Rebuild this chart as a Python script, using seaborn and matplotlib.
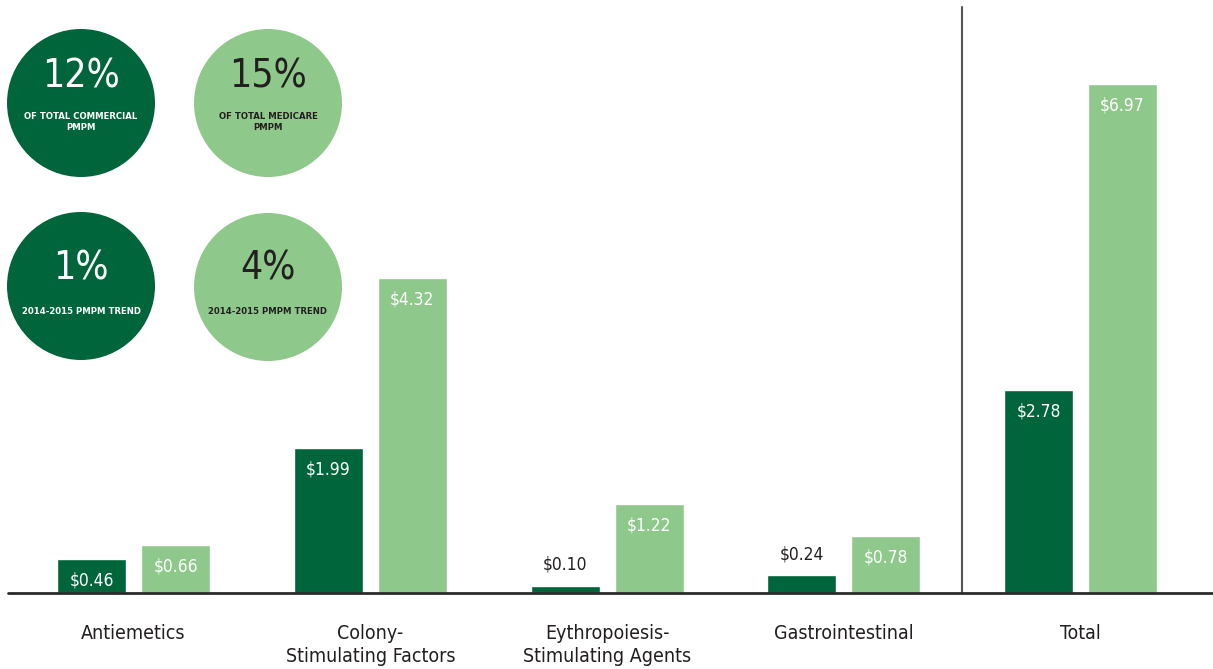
import matplotlib
matplotlib.use("Agg")
import matplotlib.pyplot as plt
from matplotlib.patches import Circle
import pandas as pd
import seaborn as sns

# data
categories = ['Antiemetics', 'Colony-\nStimulating Factors', 'Eythropoiesis-\nStimulating Agents',
              'Gastrointestinal', 'Total']
commercial = [0.46, 1.99, 0.10, 0.24, 2.78]
medicare = [0.66, 4.32, 1.22, 0.78, 6.97]
plans = ['Commercial', 'Medicare']

callout_values = ['12%', '15%', '1%', '4%']
callout_labels = ['OF TOTAL COMMERCIAL\nPMPM', 'OF TOTAL MEDICARE\nPMPM',
                  '2014-2015 PMPM TREND', '2014-2015 PMPM TREND']

dark_green = '#00653a'
light_green = '#8ec98b'
text_dark = '#231f20'

df = pd.DataFrame({
    'category': categories * 2,
    'value': commercial + medicare,
    'plan': [plans[0]] * len(categories) + [plans[1]] * len(categories),
})

sns.set_theme(style='white')
plt.rcParams['font.family'] = ['Liberation Sans Narrow', 'DejaVu Sans']
plt.rcParams['font.stretch'] = 'condensed'

W, H = 1213, 669
fig = plt.figure(figsize=(W / 100, H / 100), dpi=100)
base_y = 593
ax = fig.add_axes([0, (H - base_y) / H, 1, base_y / H])

sns.barplot(data=df, x='category', y='value', hue='plan',
            palette=[dark_green, light_green], width=0.7096, gap=0.1786,
            saturation=1, legend=False, ax=ax)

ax.set_xlim(-0.5643, 4.5593)
ax.set_ylim(0, base_y / 73.0)
ax.set_xlabel('')
ax.set_ylabel('')
ax.set_yticks([])
ax.tick_params(axis='x', length=0, pad=22, labelsize=14, colors=text_dark)
for lab in ax.get_xticklabels():
    lab.set_linespacing(1.3)
sns.despine(ax=ax, left=True, bottom=True)
ax.axhline(0, xmin=8 / W, xmax=1, color='#2b2b2b', lw=2, clip_on=False, zorder=5)
ax.axvline(3.5, ymin=0, ymax=1 - 7 / base_y, color='#555555', lw=1.5)

# value labels
for cont in ax.containers:
    for bar in cont:
        h = bar.get_height()
        x = bar.get_x() + bar.get_width() / 2
        if h < 0.3:
            ax.annotate(f'${h:.2f}', (x, h), xytext=(0, 15), textcoords='offset points',
                        ha='center', va='center', fontsize=12.5, color=text_dark)
        else:
            ax.annotate(f'${h:.2f}', (x, h), xytext=(0, -15.5), textcoords='offset points',
                        ha='center', va='center', fontsize=12.5, color='white')

# callout circles
ov = fig.add_axes([0, 0, 1, 1])
ov.set_xlim(0, W)
ov.set_ylim(H, 0)
ov.axis('off')
spots = [(81, 103), (268, 103), (81, 286), (268, 287)]
fills = [dark_green, light_green, dark_green, light_green]
for i, ((cx, cy), fc) in enumerate(zip(spots, fills)):
    tc = 'white' if fc == dark_green else text_dark
    ov.add_patch(Circle((cx, cy), 74, color=fc, lw=0))
    two_lines = '\n' in callout_labels[i]
    vy = cy - 26 if two_lines else cy - 18
    ly = cy + 19 if two_lines else cy + 25
    ov.text(cx, vy, callout_values[i], ha='center', va='center', fontsize=28, color=tc)
    ov.text(cx, ly, callout_labels[i], ha='center', va='center', fontsize=6.8,
            fontweight='bold', color=tc, linespacing=1.15)

fig.savefig('out.png', dpi=100)
